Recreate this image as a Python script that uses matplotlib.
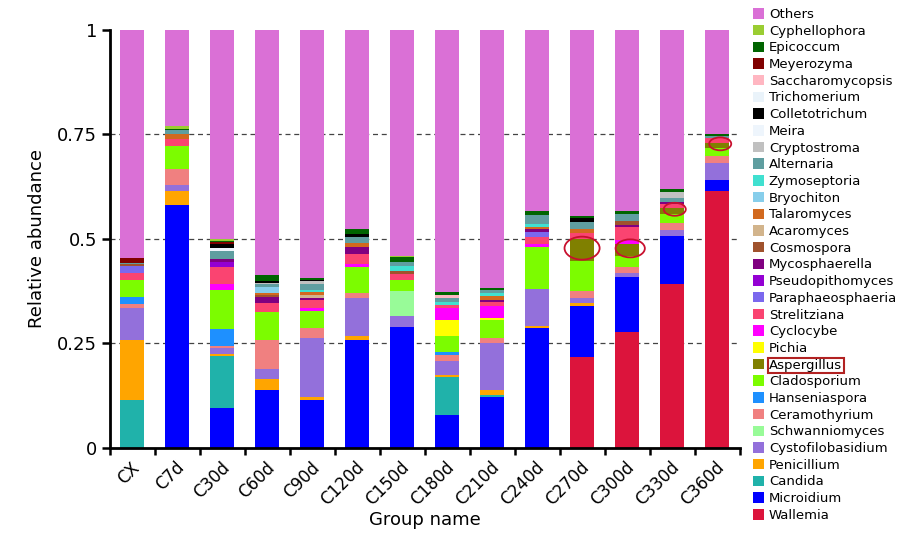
import matplotlib
matplotlib.use("Agg")
import matplotlib.pyplot as plt
from matplotlib.patches import Ellipse, Rectangle
import numpy as np

groups = ["CX", "C7d", "C30d", "C60d", "C90d", "C120d", "C150d",
          "C180d", "C210d", "C240d", "C270d", "C300d", "C330d", "C360d"]

# relative abundance per genus, one value per group (same order as groups)
Wallemia = [0, 0, 0, 0, 0, 0, 0, 0, 0, 0, .218, .278, .392, .615]
Microidium = [0, .581, .095, .138, .116, .259, .290, .080, .122, .286, .121, .130, .116, .027]
Candida = [.116, 0, .126, 0, 0, 0, 0, .090, .006, 0, 0, 0, 0, 0]
Penicillium = [.143, .034, .005, .026, .006, .010, 0, .004, .010, .006, .008, 0, 0, 0]
Cystofilobasidium = [.075, .015, .013, .026, .141, .089, .025, .034, .113, .089, .011, .011, .013, .039]
Schwanniomyces = [0, 0, 0, 0, 0, 0, .060, 0, 0, 0, 0, 0, 0, 0]
Ceramothyrium = [.010, .037, .006, .069, .025, .013, 0, .015, .012, 0, .018, .014, .016, .018]
Hanseniaspora = [.017, 0, .039, 0, 0, 0, 0, .007, 0, 0, 0, 0, 0, 0]
Cladosporium = [.040, .056, .095, .067, .039, .062, .028, .037, .043, .100, .071, .026, .022, .018]
Aspergillus = [0, 0, 0, 0, 0, 0, 0, 0, 0, 0, .054, .029, .016, .013]
Pichia = [0, 0, 0, 0, 0, 0, 0, .040, .004, 0, 0, 0, 0, 0]
Cyclocybe = [0, 0, .013, 0, .009, .008, 0, .027, .029, .008, 0, .009, 0, 0]
Strelitziana = [.018, .015, .040, .021, .017, .022, .014, .008, .011, .016, .014, .032, .008, .011]
Paraphaeosphaeria = [.017, 0, 0, 0, 0, 0, 0, 0, 0, .012, 0, 0, 0, 0]
Pseudopithomyces = [0, 0, .013, 0, 0, 0, 0, 0, 0, 0, 0, 0, 0, 0]
Mycosphaerella = [0, 0, .007, .015, .007, .018, 0, 0, .005, .006, 0, .004, .006, 0]
Cosmospora = [.004, 0, 0, .004, 0, 0, .007, 0, 0, 0, 0, .010, 0, 0]
Acaromyces = [0, 0, 0, 0, .006, 0, 0, 0, 0, 0, 0, 0, 0, 0]
Talaromyces = [0, .013, 0, .005, .008, .010, 0, 0, .008, .006, .008, 0, 0, 0]
Bryochiton = [0, 0, 0, .013, 0, 0, 0, 0, 0, 0, 0, 0, 0, 0]
Zymoseptoria = [0, 0, 0, 0, .005, 0, .012, .008, .008, .007, 0, 0, 0, 0]
Alternaria = [.003, .009, .019, .008, .014, .013, .009, .008, .006, .021, .017, .016, .008, .005]
Cryptostroma = [0, 0, 0, .003, .006, 0, 0, 0, 0, 0, 0, 0, .016, 0]
Meira = [0, 0, .007, 0, 0, 0, 0, 0, 0, 0, 0, 0, 0, 0]
Colletotrichum = [0, 0, .010, .005, .003, .009, 0, 0, 0, 0, .009, 0, 0, 0]
Trichomerium = [0, 0, 0, 0, 0, 0, 0, 0, 0, 0, 0, 0, 0, 0]
Saccharomycopsis = [0, 0, 0, 0, 0, 0, 0, .008, 0, 0, 0, 0, 0, 0]
Meyerozyma = [.012, 0, .004, 0, 0, 0, 0, 0, 0, 0, 0, 0, 0, 0]
Epicoccum = [0, .004, .004, .013, .005, .010, .011, .007, .005, .010, .007, .007, .007, .005]
Cyphellophora = [0, .005, .003, 0, 0, 0, .004, 0, 0, 0, 0, 0, 0, 0]
Others = [.545, .231, .501, .587, .593, .477, .540, .627, .618, .433, .444, .434, .380, .249]

# bottom -> top
taxa = [
    ("Wallemia", Wallemia, "#DC143C"),
    ("Microidium", Microidium, "#0000FF"),
    ("Candida", Candida, "#20B2AA"),
    ("Penicillium", Penicillium, "#FFA500"),
    ("Cystofilobasidium", Cystofilobasidium, "#9370DB"),
    ("Schwanniomyces", Schwanniomyces, "#98FB98"),
    ("Ceramothyrium", Ceramothyrium, "#F08080"),
    ("Hanseniaspora", Hanseniaspora, "#1E90FF"),
    ("Cladosporium", Cladosporium, "#7CFC00"),
    ("Aspergillus", Aspergillus, "#808000"),
    ("Pichia", Pichia, "#FFFF00"),
    ("Cyclocybe", Cyclocybe, "#FF00FF"),
    ("Strelitziana", Strelitziana, "#FA4471"),
    ("Paraphaeosphaeria", Paraphaeosphaeria, "#7B68EE"),
    ("Pseudopithomyces", Pseudopithomyces, "#9400D3"),
    ("Mycosphaerella", Mycosphaerella, "#800080"),
    ("Cosmospora", Cosmospora, "#A0522D"),
    ("Acaromyces", Acaromyces, "#D2B48C"),
    ("Talaromyces", Talaromyces, "#D2691E"),
    ("Bryochiton", Bryochiton, "#87CEEB"),
    ("Zymoseptoria", Zymoseptoria, "#40E0D0"),
    ("Alternaria", Alternaria, "#5F9EA0"),
    ("Cryptostroma", Cryptostroma, "#C0C0C0"),
    ("Meira", Meira, "#EEF5FC"),
    ("Colletotrichum", Colletotrichum, "#000000"),
    ("Trichomerium", Trichomerium, "#EAF3FA"),
    ("Saccharomycopsis", Saccharomycopsis, "#FFB6C1"),
    ("Meyerozyma", Meyerozyma, "#800000"),
    ("Epicoccum", Epicoccum, "#006400"),
    ("Cyphellophora", Cyphellophora, "#9ACD32"),
    ("Others", Others, "#DA70D6"),
]

yticks = [0, 0.25, 0.5, 0.75, 1]
yticklabels = ["0", "0.25", "0.5", "0.75", "1"]

plt.rcParams['font.family'] = ['DejaVu Sans']

fig = plt.figure(figsize=(9.09, 5.34), dpi=100)
ax = fig.add_axes([0.1206, 0.161, 0.693, 0.783])

x = np.arange(len(groups))
bottom = np.zeros(len(groups))
handles = []
bottoms = {}
for name, vals, col in taxa:
    vals = np.array(vals)
    h = ax.bar(x, vals, 0.52, bottom=bottom, color=col, linewidth=0, zorder=2, label=name)
    bottoms[name] = bottom.copy()
    handles.append(h)
    bottom = bottom + vals

for yv in [0.25, 0.5, 0.75]:
    ax.axhline(yv, color='#444444', lw=0.9, ls=(0, (4, 3)), zorder=1)

ax.set_xlim(-0.5, len(groups) - 0.5)
ax.set_ylim(0, 1)
ax.spines['top'].set_visible(False)
ax.spines['right'].set_visible(False)
ax.spines['left'].set_linewidth(2)
ax.spines['bottom'].set_linewidth(2)

ax.set_yticks(yticks)
ax.set_yticklabels(yticklabels, fontsize=13)
ax.tick_params(axis='y', length=6, width=1.8, pad=3)

ax.set_xticks(np.arange(len(groups) + 1) - 0.5)
ax.set_xticklabels([])
ax.tick_params(axis='x', length=5, width=1.8)
for i, g in enumerate(groups):
    ax.text(i + 0.25, -0.025, g, rotation=45, ha='right', va='top',
            fontsize=12, transform=ax.get_xaxis_transform())

ax.set_ylabel("Relative abundance", fontsize=13, labelpad=8)
ax.set_xlabel("Group name", fontsize=13, labelpad=37)

# red circles around Aspergillus
ell_w = [0.78, 0.65, 0.49, 0.49]
ell_h = [0.055, 0.043, 0.031, 0.031]
ell_dx = [0, 0.07, 0.06, 0.07]
asp = np.array(Aspergillus)
for k, i in enumerate([10, 11, 12, 13]):
    yc = bottoms["Aspergillus"][i] + asp[i] / 2 + 0.004
    e = Ellipse((i + ell_dx[k], yc), ell_w[k], ell_h[k], fill=False,
                edgecolor='#C8102E', lw=1.3, zorder=5, clip_on=False)
    ax.add_patch(e)

leg = fig.legend(handles[::-1], [t[0] for t in taxa][::-1],
                 loc='upper left', bbox_to_anchor=(753 / 909, 1 - 8 / 534),
                 frameon=False, fontsize=9.5, handlelength=0.85, handleheight=0.85,
                 handletextpad=0.35, labelspacing=0.28, borderpad=0, borderaxespad=0)

fig.canvas.draw()
for t in leg.get_texts():
    if t.get_text() == "Aspergillus":
        bb = t.get_window_extent()
        inv = fig.transFigure.inverted()
        (x0, y0), (x1, y1) = inv.transform([(bb.x0 - 1, bb.y0 - 1), (bb.x1 + 2, bb.y1 + 1)])
        fig.patches.append(Rectangle((x0, y0), x1 - x0, y1 - y0, fill=False,
                                     edgecolor='#B22222', lw=1.5, transform=fig.transFigure))

fig.savefig("out.png", dpi=100)
